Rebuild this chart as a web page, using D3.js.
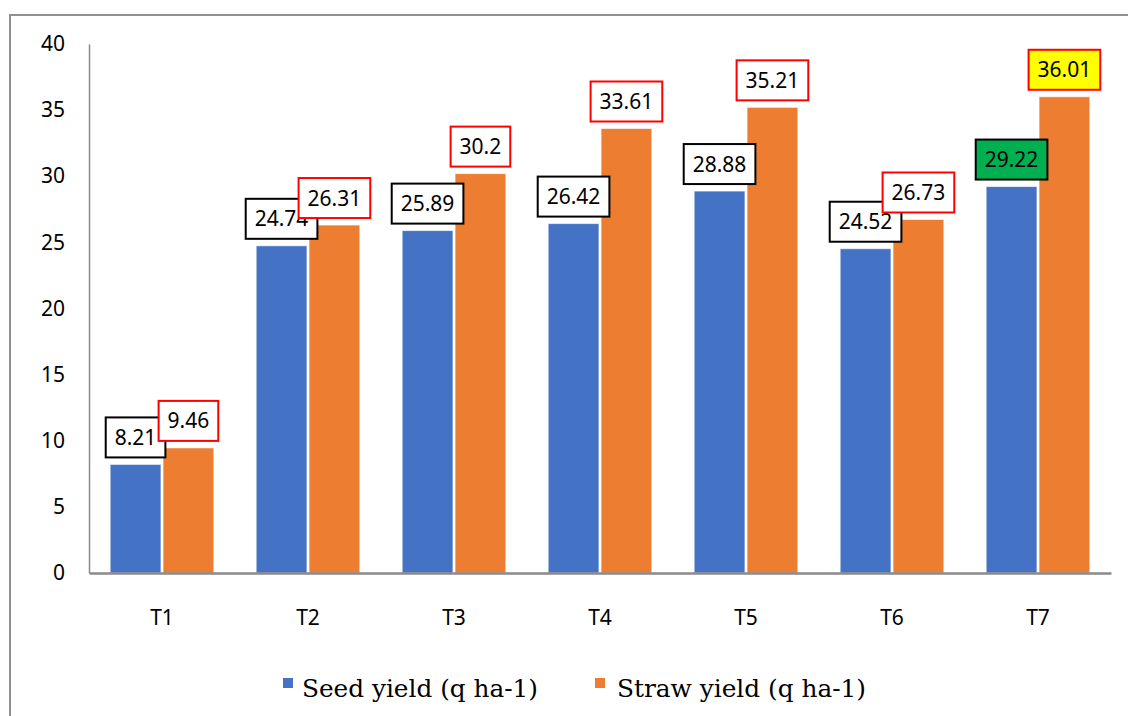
<!DOCTYPE html>
<html><head><meta charset="utf-8">
<script src="https://cdn.jsdelivr.net/npm/d3@7/dist/d3.min.js"></script>
<style>body{margin:0;background:#fff}svg{display:block}</style>
</head><body>
<svg id="c" width="1128" height="716"></svg>
<script>
const categories = ["T1","T2","T3","T4","T5","T6","T7"];
const seedYield = [8.21, 24.74, 25.89, 26.42, 28.88, 24.52, 29.22];
const strawYield = [9.46, 26.31, 30.2, 33.61, 35.21, 26.73, 36.01];
const seriesNames = ["Seed yield (q ha-1)", "Straw yield (q ha-1)"];
const yTicks = [0,5,10,15,20,25,30,35,40];

const colors = ["#4472C4", "#ED7D31"];
const labelStroke = ["#000000", "#FF0000"];

(function(){
const svg = d3.select("#c");
const W = 1128, H = 716;
const pLeft = 89, pRight = 1111, pTop = 44, pBottom = 573;

// outer frame
svg.append("rect").attr("x",10).attr("y",15).attr("width",W+10).attr("height",H+10)
  .attr("fill","none").attr("stroke","#8f8f8f").attr("stroke-width",2);

const x0 = d3.scaleBand().domain(categories).range([pLeft,pRight]).paddingInner(0.29).paddingOuter(0.145);
const x1 = d3.scaleBand().domain([0,1]).range([0,x0.bandwidth()]).paddingInner(0.04);
const y = d3.scaleLinear().domain([0,40]).range([pBottom,pTop]);

// y axis
const ya = svg.append("g").attr("transform",`translate(${pLeft},0)`)
  .call(d3.axisLeft(y).tickValues(yTicks).tickSize(0).tickPadding(24));
ya.select(".domain").attr("stroke","#8a8a8a").attr("stroke-width",1.5);
ya.selectAll("text").attr("font-family","'Noto Sans', sans-serif").attr("font-size",21).attr("fill","#000");

const rows = categories.map((c,i)=>({c, vals:[seedYield[i], strawYield[i]]}));

// bars
const g = svg.append("g");
rows.forEach(r=>{
  r.vals.forEach((v,k)=>{
    g.append("rect")
      .attr("x", x0(r.c)+x1(k))
      .attr("y", y(v))
      .attr("width", x1.bandwidth())
      .attr("height", y(0)-y(v))
      .attr("fill", colors[k])
      .attr("stroke","#ffffff").attr("stroke-opacity",0.6).attr("stroke-width",1);
  });
});

// x axis
const xa = svg.append("g").attr("transform",`translate(0,${pBottom})`)
  .call(d3.axisBottom(x0).tickSize(0).tickPadding(37));
xa.select(".domain").attr("stroke","#8a8a8a").attr("stroke-width",2.5);
xa.selectAll("text").attr("font-family","'Noto Sans', sans-serif").attr("font-size",21).attr("fill","#000");

// labels
const fills = (k,i)=>{
  if(i===6 && k===0) return "#00B050";
  if(i===6 && k===1) return "#FFFF00";
  return "#ffffff";
};
[0,1].forEach(k=>{
  const lg = svg.append("g");
  rows.forEach((r,i)=>{
    const v = r.vals[k];
    const cx = x0(r.c)+x1(k)+x1.bandwidth()/2;
    const boxBottom = y(v)-7;
    const boxH = 40;
    const t = lg.append("text").text(String(v))
      .attr("font-family","'Noto Sans', sans-serif").attr("font-size",21)
      .attr("text-anchor","middle").attr("x",cx).attr("y",boxBottom-boxH/2+7.5).attr("fill","#000");
    const tw = t.node().getComputedTextLength();
    const bw = tw+18;
    lg.insert("rect", function(){return t.node();})
      .attr("x",cx-bw/2).attr("y",boxBottom-boxH).attr("width",bw).attr("height",boxH)
      .attr("fill",fills(k,i)).attr("stroke",labelStroke[k]).attr("stroke-width",2);
  });
});

// legend
const legendItems = [{x:283, tx:302, w:236},{x:595, tx:617, w:249}];
legendItems.forEach((it,k)=>{
  svg.append("rect").attr("x",it.x).attr("y",678).attr("width",10).attr("height",10).attr("fill",colors[k]);
  svg.append("text").attr("x",it.tx).attr("y",697).text(seriesNames[k])
    .attr("font-family","'DejaVu Serif', serif").attr("font-size",24).attr("fill","#000")
    .attr("textLength", it.w).attr("lengthAdjust","spacingAndGlyphs");
});
})();
</script>
</body></html>
